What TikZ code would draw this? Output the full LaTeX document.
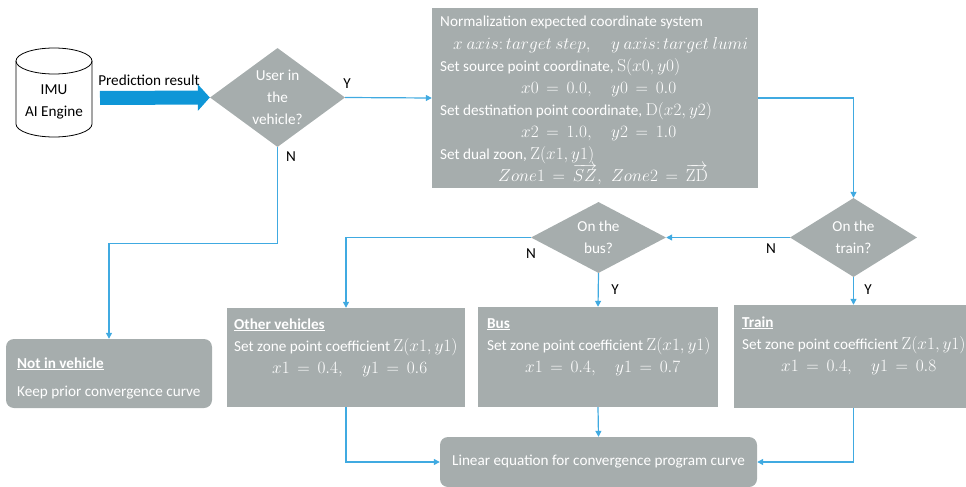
\documentclass[tikz,border=0pt]{standalone}
\usepackage[no-math]{fontspec}
\setmainfont{Carlito}
\usetikzlibrary{arrows.meta,shapes.geometric}
\definecolor{boxgrey}{RGB}{166,173,173}
\definecolor{lineblue}{RGB}{64,170,225}
\definecolor{bigblue}{RGB}{14,150,215}
\newcommand\mth[1]{{\fontsize{16.5}{22}\selectfont\thickmuskip=8mu plus 2mu$#1$}}
\begin{document}
\begin{tikzpicture}[x=1pt,y=-1pt,
  font=\fontsize{15.2}{22}\selectfont,
  box/.style={fill=boxgrey, draw=none, inner sep=0pt},
  rbox/.style={box, rounded corners=8pt},
  dia/.style={diamond, fill=boxgrey, draw=none, inner sep=0pt, text=white, align=center},
  txt/.style={text=white, inner sep=0pt},
  lab/.style={text=black, inner sep=0pt},
  conn/.style={draw=lineblue, line width=1.2pt, -{Triangle[length=6pt,width=6pt]}},
  bigarrow/.style={draw=bigblue, line width=14pt, -{Triangle[length=12pt,width=26pt]}}
]
\useasboundingbox (0,0) rectangle (966,487);

% IMU cylinder
\filldraw[fill=white, draw=black, line width=0.8pt]
  (16,61) -- (16,124) arc[start angle=180, end angle=0, x radius=38, y radius=13] -- (92,61);
\draw[black, line width=0.8pt] (54,61) ellipse [x radius=38, y radius=13];
\node[lab, align=center] (imu) at (54,102) {IMU\\AI Engine};

% prediction arrow
\node[lab] (pred) at (149,80) {Prediction result};
\coordinate (pstart) at (100,98);

% decision: user in vehicle
\node[dia, minimum width=135pt, minimum height=99pt, aspect=1.36] (user) at (277.5,97.5) {User in\\the\\vehicle?};
\draw[bigarrow] (pstart) -- (user.west);

% normalization box
\node[box, minimum width=326pt, minimum height=180pt] (norm) at (595,98) {};
\node[txt, anchor=base west] (n1) at (440,27) {Normalization expected coordinate system};
\node[txt, anchor=base west] (n2) at (453,49) {\makebox[158pt][l]{\mth{x\ axis\colon target\ step,}}\mth{y\ axis\colon target\ lumi}};
\node[txt, anchor=base west] (n3) at (440,71) {Set source point coordinate, \mth{\mathrm{S}(x0,y0)}};
\node[txt, anchor=base west] (n4) at (521,93) {\makebox[90pt][l]{\mth{x0=0.0,}}\mth{y0=0.0}};
\node[txt, anchor=base west] (n5) at (440,115) {Set destination point coordinate, \mth{\mathrm{D}(x2,y2)}};
\node[txt, anchor=base west] (n6) at (521,137) {\makebox[90pt][l]{\mth{x2=1.0,}}\mth{y2=1.0}};
\node[txt, anchor=base west] (n7) at (440,159) {Set dual zoon, \mth{\mathrm{Z}(x1,y1)}};
\node[txt, anchor=base west] (n8) at (498,181) {\makebox[113pt][l]{\mth{Zone1=\smash{\overrightarrow{SZ}},}}\mth{Zone2=\smash{\overrightarrow{\mathrm{ZD}}}}};

% decisions: bus, train
\node[dia, minimum width=135pt, minimum height=71pt, aspect=1.9] (bus) at (598.5,237.5) {On the\\bus?};
\node[dia, minimum width=127pt, minimum height=79pt, aspect=1.6] (train) at (853.5,237.5) {On the\\train?};

% result boxes
\node[rbox, minimum width=206pt, minimum height=69pt] (notin) at (109,373.5) {};
\node[txt, anchor=base west] (ni1) at (17,368) {\textbf{\underline{Not in vehicle}}};
\node[txt, anchor=base west] (ni2) at (17,396) {Keep prior convergence curve};

\node[box, minimum width=238pt, minimum height=99pt] (other) at (346,357.5) {};
\node[txt, anchor=base west] (o1) at (234,329) {\textbf{\underline{Other vehicles}}};
\node[txt, anchor=base west] (o2) at (234,351) {Set zone point coefficient \mth{\mathrm{Z}(x1,y1)}};
\node[txt, anchor=base west] (o3) at (272,373) {\makebox[90pt][l]{\mth{x1=0.4,}}\mth{y1=0.6}};

\node[box, minimum width=240pt, minimum height=100pt] (busbox) at (598,357) {};
\node[txt, anchor=base west] (b1) at (487,328) {\textbf{\underline{Bus}}};
\node[txt, anchor=base west] (b2) at (487,350) {Set zone point coefficient \mth{\mathrm{Z}(x1,y1)}};
\node[txt, anchor=base west] (b3) at (525,372) {\makebox[90pt][l]{\mth{x1=0.4,}}\mth{y1=0.7}};

\node[box, minimum width=236pt, minimum height=103pt] (trainbox) at (852,356.5) {};
\node[txt, anchor=base west] (tr1) at (742,327) {\textbf{\underline{Train}}};
\node[txt, anchor=base west] (tr2) at (742,349) {Set zone point coefficient \mth{\mathrm{Z}(x1,y1)}};
\node[txt, anchor=base west] (tr3) at (781,371) {\makebox[90pt][l]{\mth{x1=0.4,}}\mth{y1=0.8}};

\node[rbox, minimum width=317pt, minimum height=50pt, text=white] (linear) at (598.5,462) {Linear equation for convergence program curve};

% connectors
\draw[conn] (user.east) -- (norm.west);
\draw[conn] (norm.east) -| (train.north);
\draw[conn] (user.south) -- ++(0,96) -| (notin.north);
\draw[conn] (train.west) -- (bus.east);
\draw[conn] (bus.west) -| (other.north);
\draw[conn] (bus.south) -- (busbox.north);
\draw[conn] (train.south) -- (train.south |- trainbox.north);
\draw[conn] (other.south) |- (linear.west);
\draw[conn] (busbox.south) -- (linear.north);
\draw[conn] (train.south |- trainbox.south) |- (linear.east);

% Y / N labels
\node[lab] (uy) at (347,84) {Y};
\node[lab] (un) at (291,157) {N};
\node[lab] (bn) at (531,254) {N};
\node[lab] (by) at (615,290) {Y};
\node[lab] (tn) at (771,249) {N};
\node[lab] (ty) at (868,290) {Y};
\end{tikzpicture}
\end{document}
